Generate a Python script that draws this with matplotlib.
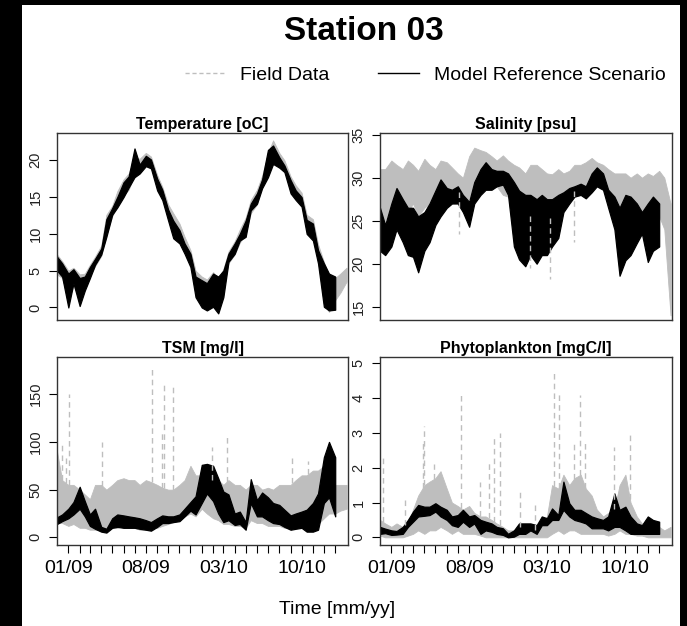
import numpy as np
import pandas as pd
import matplotlib
matplotlib.use("Agg")
import matplotlib.pyplot as plt
from matplotlib.lines import Line2D
from matplotlib.patches import Rectangle

plt.rcParams['font.family'] = ['Liberation Sans', 'DejaVu Sans']

# ---------------------------------------------------------------------------
# Data (half-monthly envelopes)

dates = pd.date_range("2008-12-01", "2011-02-01", freq="SMS")   # field data
model_dates = dates[:51]                                          # model ends 01/2011

temp_field_lo = [4.5, 4.0, 1.0, 3.0, 1.0, 2.5, 4.2, 5.6, 7.0, 9.8,
                 12.4, 13.8, 15.2, 16.0, 18.0, 18.8, 19.5, 19.0, 16.5, 15.0,
                 12.8, 10.5, 9.5, 8.0, 5.8, 2.0, 0.5, 0.0, 0.6, 0.3,
                 2.4, 6.0, 7.2, 8.8, 10.0, 12.8, 14.0, 16.5, 18.8, 19.8,
                 19.4, 18.6, 16.0, 15.0, 14.0, 10.8, 9.6, 6.8, 0.5, -0.6,
                 1.0, 2.0, 3.5]
temp_field_hi = [7.2, 6.3, 5.0, 5.4, 4.5, 4.6, 5.8, 6.9, 8.4, 12.6,
                 13.8, 15.8, 17.4, 18.2, 20.4, 20.2, 21.0, 20.5, 18.0, 16.4,
                 14.0, 12.8, 11.4, 9.6, 7.8, 5.0, 4.2, 3.8, 4.8, 4.0,
                 5.2, 7.6, 9.0, 10.6, 12.2, 14.6, 16.0, 17.9, 21.0, 22.7,
                 21.0, 20.0, 17.8, 16.6, 15.6, 12.6, 12.0, 8.6, 6.2, 4.4,
                 4.0, 4.6, 5.4]
temp_model_lo = [5.0, 4.2, 0.0, 3.3, 0.2, 2.3, 4.0, 5.8, 7.2, 9.6,
                 12.6, 13.6, 15.0, 16.3, 17.7, 18.2, 19.2, 18.9, 15.9, 14.6,
                 11.8, 9.4, 8.7, 7.3, 5.5, 1.4, 0.0, -0.4, 0.1, -0.8,
                 1.4, 6.2, 7.3, 9.1, 9.6, 13.2, 14.1, 16.2, 17.7, 19.5,
                 19.0, 18.4, 15.5, 14.6, 13.7, 10.0, 9.1, 6.0, 0.1, -0.4,
                 -0.3]
temp_model_hi = [6.9, 6.0, 4.6, 5.2, 4.0, 4.2, 5.5, 6.6, 8.0, 12.0,
                 13.5, 15.0, 17.0, 17.8, 21.6, 19.4, 20.6, 20.1, 17.5, 16.0,
                 13.3, 11.8, 10.5, 8.7, 7.3, 4.2, 3.7, 3.3, 4.6, 4.2,
                 5.0, 7.3, 8.7, 10.0, 11.8, 14.1, 15.5, 17.4, 21.4, 22.0,
                 20.4, 19.3, 17.3, 15.9, 15.0, 11.9, 11.4, 7.8, 6.0, 4.6,
                 4.2]

sal_field_lo = [23.0, 25.0, 27.0, 27.5, 26.5, 26.0, 27.0, 25.5, 26.5, 27.0,
                26.5, 28.0, 27.5, 28.0, 28.5, 27.5, 27.5, 29.0, 29.5, 29.0,
                29.0, 29.0, 28.0, 27.8, 26.5, 26.5, 25.5, 25.5, 27.5, 27.0,
                25.0, 25.5, 26.5, 28.0, 28.5, 28.5, 29.0, 29.0, 29.5, 29.5,
                29.0, 27.5, 26.5, 25.0, 26.0, 26.0, 26.5, 26.0, 25.0, 26.5,
                25.5, 24.0, 14.0]
sal_field_hi = [31.0, 31.0, 32.0, 31.5, 31.0, 32.0, 31.5, 30.8, 32.2, 31.5,
                31.0, 32.0, 31.8, 31.2, 30.5, 30.0, 32.5, 33.5, 33.2, 33.0,
                32.5, 32.0, 32.6, 32.0, 31.5, 31.2, 30.5, 31.5, 31.5, 31.0,
                30.5, 30.4, 31.0, 30.5, 30.8, 31.5, 31.5, 31.8, 32.3, 31.8,
                31.5, 31.0, 30.5, 30.5, 30.5, 30.0, 30.5, 30.0, 30.5, 30.2,
                30.8, 30.0, 27.0]
sal_model_lo = [21.5, 21.0, 22.0, 24.0, 22.5, 21.0, 20.8, 19.0, 21.5, 22.5,
                24.5, 25.5, 26.5, 27.0, 27.0, 26.0, 24.3, 27.0, 28.0, 28.6,
                28.6, 29.0, 29.2, 28.0, 22.0, 20.5, 19.7, 21.0, 20.0, 21.0,
                21.0, 22.0, 23.0, 26.0, 27.0, 27.8, 28.0, 27.6, 28.3, 29.0,
                28.6, 26.5, 24.0, 18.6, 20.4, 21.0, 22.4, 23.5, 20.2, 21.5,
                22.0]
sal_model_hi = [26.5, 24.5, 27.0, 28.8, 27.5, 26.5, 26.5, 25.5, 26.0, 27.0,
                28.5, 29.8, 28.8, 28.6, 29.0, 28.0, 27.2, 29.5, 31.0, 31.8,
                31.0, 30.8, 30.8, 30.5, 29.5, 28.5, 28.0, 28.0, 27.5, 28.0,
                27.5, 27.5, 28.0, 28.3, 28.8, 29.0, 29.3, 29.0, 30.5, 31.2,
                30.5, 28.6, 27.8, 26.5, 28.0, 27.8, 27.0, 26.0, 27.0, 27.8,
                27.0]
sal_spike_dates = ["2009-07-03", "2010-01-15", "2010-03-10", "2010-05-13"]
sal_spike_vals = [23.5, 19.5, 18.2, 22.5]

tsm_field_lo = [15, 15, 12, 14, 10, 10, 8, 8, 8, 6,
                10, 10, 12, 12, 10, 8, 8, 10, 10, 12,
                14, 16, 18, 22, 25, 22, 30, 25, 20, 18,
                14, 14, 12, 12, 10, 18, 15, 15, 12, 12,
                12, 10, 10, 10, 12, 12, 12, 14, 20, 25,
                25, 28, 30]
tsm_field_hi = [90, 60, 55, 55, 50, 45, 40, 55, 55, 50,
                55, 60, 62, 60, 60, 55, 60, 58, 55, 52,
                50, 50, 55, 60, 75, 65, 65, 62, 60, 60,
                55, 60, 55, 55, 50, 55, 55, 50, 52, 50,
                55, 55, 55, 60, 65, 65, 70, 70, 75, 75,
                55, 55, 55]
tsm_model_lo = [14, 17, 20, 24, 30, 22, 12, 9, 6, 5,
                10, 11, 10, 10, 10, 9, 8, 7, 11, 15,
                15, 16, 17, 22, 28, 24, 36, 46, 38, 25,
                16, 18, 13, 14, 8, 36, 22, 22, 18, 15,
                14, 11, 8, 9, 10, 6, 6, 8, 36, 42,
                22]
tsm_model_hi = [21, 24, 30, 37, 53, 38, 24, 30, 11, 9,
                20, 24, 23, 22, 21, 20, 18, 16, 20, 23,
                22, 22, 24, 30, 37, 43, 76, 77, 75, 62,
                48, 45, 25, 27, 16, 61, 39, 47, 42, 36,
                34, 29, 23, 25, 27, 29, 36, 46, 84, 100,
                84]
tsm_spike_dates = ["2008-12-15", "2008-12-26", "2009-01-04", "2009-04-03",
                   "2009-08-17", "2009-09-15", "2009-09-21", "2009-10-15",
                   "2010-01-30", "2010-03-10", "2010-09-06", "2010-10-19"]
tsm_spike_vals = [100, 85, 150, 100, 178, 113, 162, 158, 95, 105, 83, 80]

phy_field_lo = [0.05, 0.0, 0.0, 0.0, 0.0, 0.05, 0.1, 0.2, 0.1, 0.2,
                0.2, 0.3, 0.2, 0.1, 0.2, 0.1, 0.1, 0.1, 0.05, 0.0,
                0.0, 0.0, 0.0, 0.0, 0.0, 0.0, 0.0, 0.0, 0.0, 0.0,
                0.0, 0.1, 0.2, 0.1, 0.2, 0.2, 0.1, 0.1, 0.1, 0.1,
                0.1, 0.05, 0.1, 0.2, 0.1, 0.1, 0.05, 0.05, 0.0, 0.0,
                0.0, 0.0, 0.0]
phy_field_hi = [0.5, 0.4, 0.3, 0.4, 0.3, 0.4, 0.8, 1.2, 1.5, 1.6,
                1.7, 1.9, 1.4, 1.0, 0.9, 0.8, 0.9, 0.7, 0.6, 0.6,
                0.5, 0.4, 0.3, 0.2, 0.2, 0.3, 0.3, 0.3, 0.2, 0.4,
                0.6, 1.5, 1.4, 1.8, 1.5, 1.7, 1.8, 1.4, 1.2, 0.8,
                0.6, 0.7, 0.8, 1.5, 1.8, 1.0, 0.6, 0.4, 0.3, 0.3,
                0.3, 0.2, 0.3]
phy_model_lo = [0.1, 0.12, 0.07, 0.08, 0.1, 0.3, 0.45, 0.6, 0.62, 0.64,
                0.74, 0.6, 0.5, 0.35, 0.3, 0.45, 0.3, 0.4, 0.1, 0.2,
                0.16, 0.1, 0.07, 0.0, 0.02, 0.1, 0.1, 0.2, 0.1, 0.35,
                0.35, 0.5, 0.5, 0.79, 0.6, 0.5, 0.45, 0.4, 0.26, 0.26,
                0.26, 0.2, 0.3, 0.3, 0.2, 0.1, 0.1, 0.1, 0.1, 0.1,
                0.1]
phy_model_hi = [0.3, 0.25, 0.2, 0.18, 0.3, 0.5, 0.74, 0.93, 0.88, 0.88,
                0.98, 0.88, 0.79, 0.6, 0.64, 0.79, 0.6, 0.64, 0.5, 0.45,
                0.4, 0.3, 0.26, 0.1, 0.2, 0.4, 0.4, 0.4, 0.35, 0.6,
                0.55, 0.83, 0.64, 1.6, 0.98, 0.79, 0.79, 0.7, 0.6, 0.55,
                0.5, 0.6, 1.26, 0.79, 0.88, 0.6, 0.4, 0.35, 0.6, 0.5,
                0.45]
phy_spike_dates = ["2008-12-08", "2009-02-07", "2009-03-27", "2009-04-01",
                   "2009-04-26", "2009-07-10", "2009-08-31", "2009-09-23",
                   "2009-10-09", "2009-10-25", "2009-12-18", "2010-01-28",
                   "2010-03-19", "2010-04-02", "2010-05-13", "2010-05-31",
                   "2010-06-14", "2010-09-01", "2010-10-13"]
phy_spike_vals = [2.4, 1.2, 2.8, 3.2, 2.1, 4.1, 1.6, 2.2, 2.95, 3.0,
                  1.4, 1.0, 4.75, 4.2, 2.7, 4.1, 2.8, 2.6, 3.0]

titles = ["Temperature [oC]", "Salinity [psu]", "TSM [mg/l]", "Phytoplankton [mgC/l]"]
yticks = [[0, 5, 10, 15, 20], [15, 20, 25, 30, 35], [0, 50, 100, 150], [0, 1, 2, 3, 4, 5]]
ylims = [(-1.7, 23.7), (13.45, 35.2), (-8, 189), (-0.22, 5.18)]

month_ticks = pd.date_range("2009-01-01", "2011-01-01", freq="MS")
month_labels = [d.strftime("%m/%y") if i % 7 == 0 else "" for i, d in enumerate(month_ticks)]

# ---------------------------------------------------------------------------
# Plot

W, H = 687, 626
fig = plt.figure(figsize=(W / 100, H / 100), dpi=100)
fig.patch.set_facecolor("black")
fig.add_artist(Rectangle((22 / W, 0), (680 - 22) / W, (626 - 5) / H,
                         transform=fig.transFigure, facecolor="white",
                         edgecolor="none", zorder=-1))

GRAY = "#BEBEBE"
boxes = [(57, 133, 348, 320), (380, 133, 672, 320),
         (57, 357, 348, 545), (380, 357, 672, 545)]

panels = [
    (temp_field_lo, temp_field_hi, temp_model_lo, temp_model_hi, [], [], False),
    (sal_field_lo, sal_field_hi, sal_model_lo, sal_model_hi, sal_spike_dates, sal_spike_vals, True),
    (tsm_field_lo, tsm_field_hi, tsm_model_lo, tsm_model_hi, tsm_spike_dates, tsm_spike_vals, False),
    (phy_field_lo, phy_field_hi, phy_model_lo, phy_model_hi, phy_spike_dates, phy_spike_vals, False),
]

num_dates = matplotlib.dates.date2num(dates)
for i, (flo, fhi, mlo, mhi, sd, sv, down) in enumerate(panels):
    x0, y0, x1, y1 = boxes[i]
    ax = fig.add_axes([x0 / W, 1 - y1 / H, (x1 - x0) / W, (y1 - y0) / H])

    ax.fill_between(dates, flo, fhi, color=GRAY, lw=0.6)
    if sd:
        sdt = pd.to_datetime(sd)
        sn = matplotlib.dates.date2num(sdt)
        if down:
            base = np.interp(sn, num_dates, flo)
        else:
            base = np.interp(sn, num_dates, fhi)
        ax.vlines(sdt, base, sv, colors=GRAY, linestyles=(0, (4, 3)), lw=1.0)
    ax.fill_between(model_dates, mlo, mhi, color="black", lw=0.9)

    ax.set_xlim(pd.Timestamp("2008-12-01"), pd.Timestamp("2011-02-05"))
    ax.set_ylim(*ylims[i])
    ax.set_yticks(yticks[i])
    ax.tick_params(axis="y", length=5.5, pad=5, labelsize=10.5, labelcolor="#222222",
                   labelrotation=90)
    for t in ax.get_yticklabels():
        t.set_va("center")
    if i >= 2:
        ax.set_xticks(month_ticks)
        ax.set_xticklabels(month_labels)
        ax.tick_params(axis="x", length=6, pad=5, labelsize=14)
    else:
        ax.set_xticks([])
    for s in ax.spines.values():
        s.set_linewidth(1.0)
        s.set_color("#333333")
    ax.set_title(titles[i], fontsize=11.5, fontweight="bold", pad=3)

fig.text(364 / W, 1 - 32 / H, "Station 03", fontsize=24, fontweight="bold",
         ha="center", va="center")
fig.text(337 / W, 1 - 610 / H, "Time [mm/yy]", fontsize=14, ha="center", va="center")

handles = [Line2D([], [], color=GRAY, lw=1, linestyle=(0, (3, 2))),
           Line2D([], [], color="black", lw=1)]
fig.legend(handles, ["Field Data", "Model Reference Scenario"], loc="center left",
           bbox_to_anchor=(185 / W, 1 - 75 / H), ncol=2, frameon=False,
           fontsize=14, handlelength=2.1, handletextpad=0.75, columnspacing=2.5,
           borderpad=0, borderaxespad=0)

fig.savefig("out.png", dpi=100, facecolor=fig.get_facecolor())
